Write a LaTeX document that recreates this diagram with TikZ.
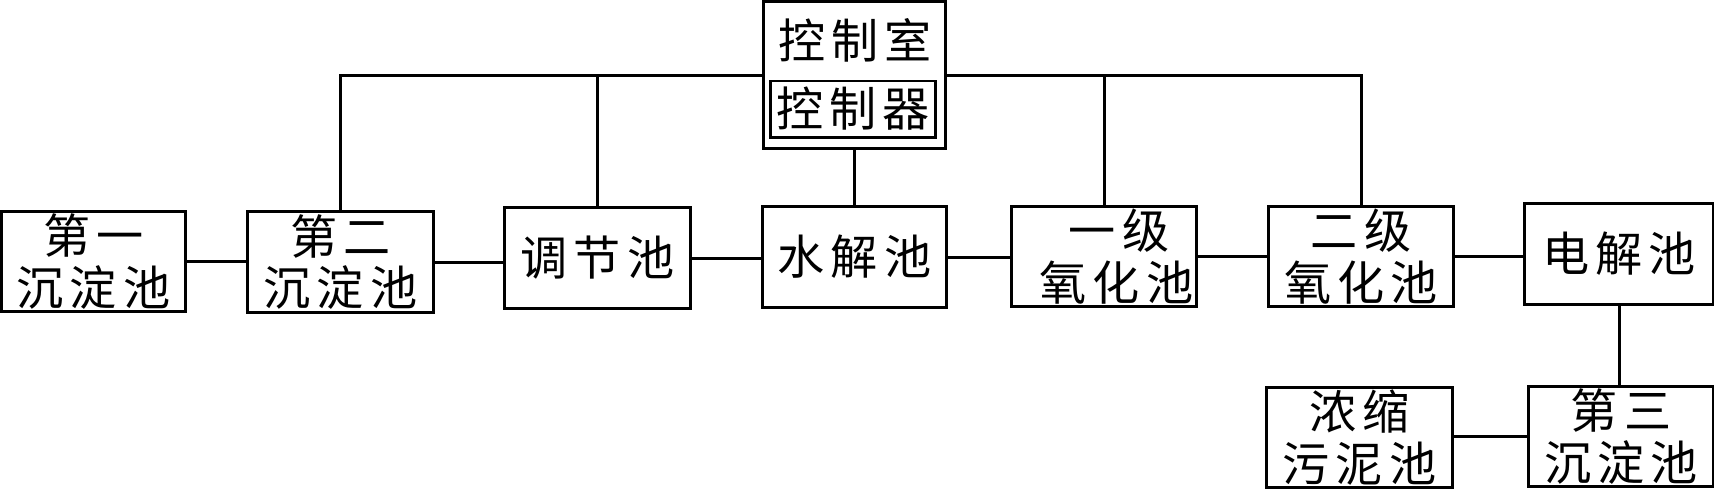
\documentclass[tikz,border=0pt]{standalone}
\usepackage{fontspec}
\newfontfamily\cjk[LetterSpace=13]{Noto Sans CJK SC}
\usetikzlibrary{positioning}

\tikzset{
  pool/.style={draw, line width=0.85pt, minimum width=1.84cm, minimum height=1cm,
    inner sep=0pt, align=center, font=\cjk\fontsize{13.4pt}{14.6pt}\selectfont},
  pipe/.style={line width=0.85pt}
}

\begin{document}
\begin{tikzpicture}[x=0.01cm, y=-0.01cm]
    \useasboundingbox (0,0) rectangle (1714,490);

    % 控制室
    \node[pool, minimum width=1.81cm, minimum height=1.46cm] (ctrl) at (854.5,75) {};
    \node[pool, draw=none] (ctrltxt) at (855,40) {控制室};
    \node[pool, minimum width=1.64cm, minimum height=0.56cm] (ctrlin) at (853,109) {控制器};

    % 处理池
    \node[pool, minimum width=1.83cm] (b1) at (93.5,261.5) {第一\\沉淀池};
    \node[pool, minimum width=1.85cm] (b2) at (340.5,262) {第二\\沉淀池};
    \node[pool, minimum width=1.85cm] (tj) at (597.5,258) {调节池};
    \node[pool, minimum width=1.83cm] (sj) at (854.5,257) {水解池};
    \node[pool] (y1) at (1104,256.5) {\hspace*{0.3cm}一级\\\hspace*{0.25cm}氧化池};
    \node[pool] (y2) at (1361,256.5) {二级\\氧化池};
    \node[pool, minimum width=1.88cm] (dj) at (1619,254) {电解池};
    \node[pool] (d3) at (1621,436.5) {第三\\沉淀池};
    \node[pool, minimum width=1.85cm] (nc) at (1359.5,437.5) {浓缩\\污泥池};

    % 管路
    \draw[pipe] (b1.east) -- (b1.east -| b2.west);
    \draw[pipe] (b2.east) -- (b2.east -| tj.west);
    \draw[pipe] (tj.east) -- (tj.east -| sj.west);
    \draw[pipe] (sj.east) -- (sj.east -| y1.west);
    \draw[pipe] (y1.east) -- (y1.east -| y2.west);
    \draw[pipe] (y2.east) -- (y2.east -| dj.west);
    \draw[pipe] (dj.south) -- (dj.south |- d3.north);
    \draw[pipe] (d3.west) -- (d3.west -| nc.east);

    % 控制线
    \draw[pipe] (b2.north) |- (ctrl.west);
    \draw[pipe] (tj.north) -- (tj.north |- ctrl.west);
    \draw[pipe] (ctrl.east) -| (y2.north);
    \draw[pipe] (y1.north) -- (y1.north |- ctrl.east);
    \draw[pipe] (ctrl.south) -- (sj.north);

\end{tikzpicture}
\end{document}
